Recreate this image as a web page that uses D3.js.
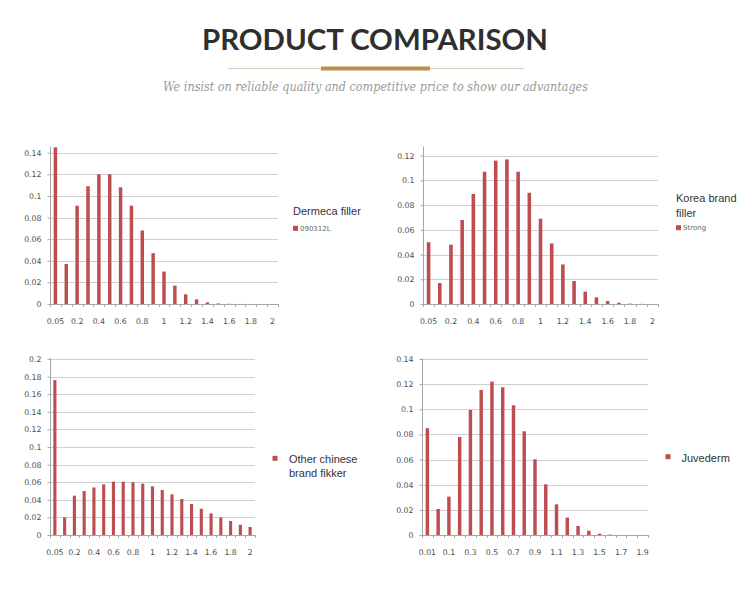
<!DOCTYPE html>
<html>
<head>
<meta charset="utf-8">
<script src="https://cdn.jsdelivr.net/npm/d3@7/dist/d3.min.js"></script>
<style>
  html, body { margin: 0; padding: 0; background: #fff; }
  svg { display: block; }
</style>
</head>
<body>
<svg id="chart" width="750" height="597"></svg>
<script>
// ---------- data ----------
const catsA = ["0.05","0.1","0.2","0.3","0.4","0.5","0.6","0.7","0.8","0.9","1","1.1","1.2","1.3","1.4","1.5","1.6","1.7","1.8","1.9","2"];
const catsJuvederm = ["0.01","0.05","0.1","0.2","0.3","0.4","0.5","0.6","0.7","0.8","0.9","1","1.1","1.2","1.3","1.4","1.5","1.6","1.7","1.8","1.9"];

const dermecaValues = [0.145,0.037,0.091,0.109,0.120,0.120,0.108,0.091,0.068,0.047,0.030,0.017,0.009,0.0043,0.0015,0.0005,0.0002,0.0001,0,0,0];
const koreaValues = [0.050,0.017,0.048,0.068,0.089,0.107,0.116,0.117,0.107,0.090,0.069,0.049,0.032,0.0186,0.010,0.0054,0.0024,0.001,0.0003,0.0001,0];
const otherValues = [0.176,0.020,0.0447,0.050,0.054,0.0576,0.0606,0.0606,0.060,0.0583,0.0553,0.0511,0.0462,0.0409,0.0352,0.0299,0.0246,0.020,0.0159,0.0117,0.0091];
const juvedermValues = [0.085,0.0207,0.0305,0.078,0.0995,0.1154,0.122,0.1175,0.1032,0.0825,0.0602,0.0403,0.0244,0.0138,0.0072,0.0034,0.001,0.0003,0,0,0];

const yTicks14 = [0,0.02,0.04,0.06,0.08,0.1,0.12,0.14];
const yTicks12 = [0,0.02,0.04,0.06,0.08,0.1,0.12];
const yTicks20 = [0,0.02,0.04,0.06,0.08,0.1,0.12,0.14,0.16,0.18,0.2];

const titleText = "PRODUCT COMPARISON";
const subtitleText = "We insist on reliable quality and competitive price to show our advantages";

// ---------- styles ----------
const barColor = "#bd4d50";
const gridColor = "#d0d0d0";
const axisColor = "#a6a6a6";
const labelColor = "#4d4d4d";

const svg = d3.select("#chart");

// header
svg.append("text")
  .attr("x", 375).attr("y", 50)
  .attr("text-anchor", "middle")
  .attr("font-family", "Lato, 'Liberation Sans', sans-serif")
  .attr("font-weight", 700)
  .attr("font-size", 28)
  .attr("fill", "#2f2f2f")
  .attr("textLength", 346)
  .attr("lengthAdjust", "spacingAndGlyphs")
  .text(titleText);

svg.append("line")
  .attr("x1", 228).attr("x2", 524).attr("y1", 68.5).attr("y2", 68.5)
  .attr("stroke", "#d9cfbf").attr("stroke-width", 1);
svg.append("rect")
  .attr("x", 321).attr("y", 66.5).attr("width", 109).attr("height", 4)
  .attr("fill", "#b8904f");

svg.append("text")
  .attr("x", 375.5).attr("y", 91)
  .attr("text-anchor", "middle")
  .attr("font-family", "'DejaVu Serif', 'Liberation Serif', serif")
  .attr("font-style", "italic")
  .attr("font-size", 12.5)
  .attr("fill", "#9a9a9a")
  .attr("textLength", 425)
  .attr("lengthAdjust", "spacingAndGlyphs")
  .text(subtitleText);

// ---------- chart drawer ----------
function drawChart(cfg) {
  const g = svg.append("g");
  const x = d3.scaleBand().domain(cfg.cats).range([cfg.x0, cfg.x1]);
  const yMax = cfg.ticks[cfg.ticks.length - 1];
  const y = d3.scaleLinear().domain([0, yMax]).range([cfg.yBottom, cfg.yTop]);
  const fmt = v => (v === 0 ? "0" : String(+v.toFixed(2)));

  // gridlines
  g.append("g").selectAll("line")
    .data(cfg.ticks.filter(t => t > 0))
    .join("line")
    .attr("x1", cfg.x0).attr("x2", cfg.x1)
    .attr("y1", d => Math.round(y(d)) + 0.5).attr("y2", d => Math.round(y(d)) + 0.5)
    .attr("stroke", gridColor).attr("stroke-width", 1);

  // y axis via d3.axisLeft
  const yAxis = g.append("g")
    .attr("transform", `translate(${cfg.x0 + 0.5},0)`)
    .call(d3.axisLeft(y).tickValues(cfg.ticks).tickFormat(fmt).tickSize(3).tickPadding(6));
  yAxis.select(".domain").remove();
  yAxis.selectAll(".tick line").attr("stroke", axisColor);
  yAxis.selectAll(".tick text")
    .attr("font-family", "'DejaVu Sans', Verdana, sans-serif")
    .attr("font-size", 7.8)
    .attr("fill", labelColor);
  g.append("line")
    .attr("x1", cfg.x0 + 0.5).attr("x2", cfg.x0 + 0.5)
    .attr("y1", cfg.yTop - cfg.extraTop).attr("y2", cfg.yBottom)
    .attr("stroke", axisColor).attr("stroke-width", 1);

  // bars
  const bw = x.bandwidth() * 0.32;
  g.append("g").selectAll("rect")
    .data(cfg.values.map((v, i) => ({ c: cfg.cats[i], v })))
    .join("rect")
    .attr("x", d => x(d.c) + (x.bandwidth() - bw) / 2)
    .attr("width", bw)
    .attr("y", d => y(d.v))
    .attr("height", d => y(0) - y(d.v))
    .attr("fill", barColor);

  // x axis
  g.append("line")
    .attr("x1", cfg.x0).attr("x2", cfg.x1)
    .attr("y1", cfg.yBottom + 0.5).attr("y2", cfg.yBottom + 0.5)
    .attr("stroke", axisColor).attr("stroke-width", 1);
  g.append("g").selectAll("line")
    .data(d3.range(cfg.cats.length + 1))
    .join("line")
    .attr("x1", i => Math.round(cfg.x0 + i * x.step()) + 0.5)
    .attr("x2", i => Math.round(cfg.x0 + i * x.step()) + 0.5)
    .attr("y1", cfg.yBottom).attr("y2", cfg.yBottom + 3)
    .attr("stroke", axisColor);
  g.append("g").selectAll("text")
    .data(cfg.cats.filter((c, i) => i % 2 === 0))
    .join("text")
    .attr("x", d => x(d) + x.bandwidth() / 2)
    .attr("y", cfg.yBottom + 17)
    .attr("dy", "0.35em")
    .attr("text-anchor", "middle")
    .attr("font-family", "'DejaVu Sans', Verdana, sans-serif")
    .attr("font-size", 7.8)
    .attr("fill", labelColor)
    .text(d => d);

  // legend
  const L = cfg.legend;
  L.lines.forEach((t, i) => {
    g.append("text")
      .attr("x", L.tx).attr("y", L.ty + i * 14.5)
      .attr("dy", "0.35em")
      .attr("font-family", "'Liberation Sans', Arial, sans-serif")
      .attr("font-size", 11)
      .attr("fill", "#333")
      .text(t);
  });
  g.append("rect")
    .attr("x", L.sx).attr("y", L.sy - 2.5).attr("width", 5).attr("height", 5)
    .attr("fill", barColor);
  if (L.series) {
    g.append("text")
      .attr("x", L.sx + 7).attr("y", L.sy)
      .attr("dy", "0.35em")
      .attr("font-family", "'DejaVu Sans', Verdana, sans-serif")
      .attr("font-size", 7)
      .attr("fill", "#666")
      .text(L.series);
  }
}

drawChart({
  cats: catsA, values: dermecaValues, ticks: yTicks14,
  x0: 50, x1: 278, yTop: 152.7, yBottom: 304, extraTop: 6,
  legend: { lines: ["Dermeca filler"], tx: 293, ty: 210.7, sx: 293, sy: 228.3, series: "090312L" }
});
drawChart({
  cats: catsA, values: koreaValues, ticks: yTicks12,
  x0: 423, x1: 658, yTop: 155.7, yBottom: 304, extraTop: 9,
  legend: { lines: ["Korea brand", "filler"], tx: 676, ty: 198.5, sx: 676, sy: 227.7, series: "Strong" }
});
drawChart({
  cats: catsA, values: otherValues, ticks: yTicks20,
  x0: 50, x1: 255, yTop: 359, yBottom: 535, extraTop: 1,
  legend: { lines: ["Other chinese", "brand fikker"], tx: 289, ty: 459, sx: 272.5, sy: 458.3, series: null }
});
drawChart({
  cats: catsJuvederm, values: juvedermValues, ticks: yTicks14,
  x0: 422, x1: 648, yTop: 359, yBottom: 535, extraTop: 1,
  legend: { lines: ["Juvederm"], tx: 681.5, ty: 458, sx: 665.5, sy: 456.7, series: null }
});
</script>
</body>
</html>
